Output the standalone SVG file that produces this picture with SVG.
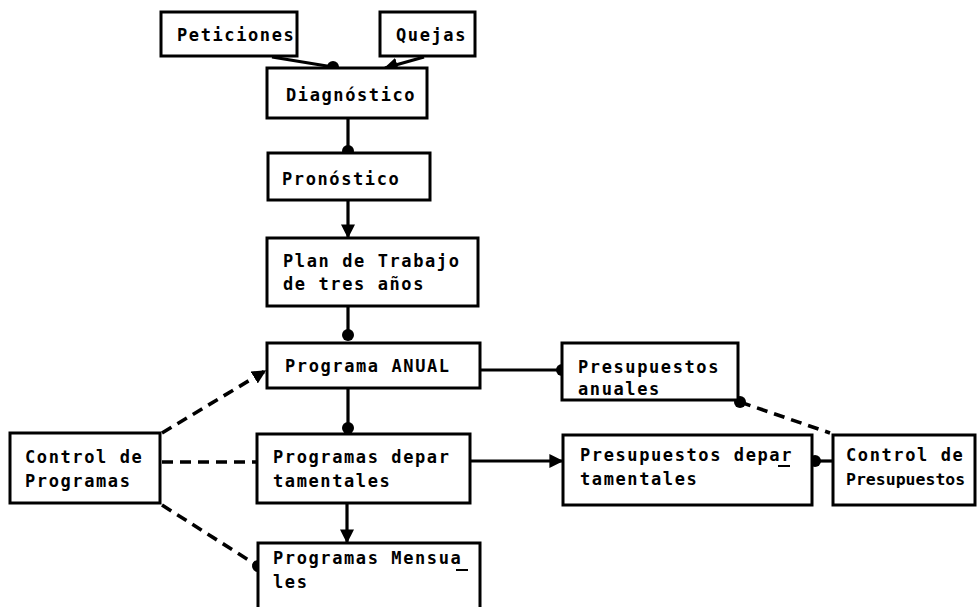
<svg xmlns="http://www.w3.org/2000/svg" width="979" height="607" viewBox="0 0 979 607">
<style>
.box{fill:#fff;stroke:#000;stroke-width:3}
.t{font-family:"DejaVu Sans Mono","Liberation Mono",monospace;font-weight:bold;font-size:17px;letter-spacing:1.6px;fill:#000}
.tn{letter-spacing:0;font-size:16.5px}
.c{fill:none;stroke:#000;stroke-width:3.2}
.d{fill:none;stroke:#000;stroke-width:3.6;stroke-dasharray:11 7}
</style>
<defs>
<marker id="dot" viewBox="0 0 10 10" refX="5" refY="5" markerWidth="12" markerHeight="12" markerUnits="userSpaceOnUse">
<circle cx="5" cy="5" r="5" fill="#000"/>
</marker>
<marker id="arr" viewBox="0 0 10 10" refX="9" refY="5" markerWidth="14" markerHeight="14" markerUnits="userSpaceOnUse" orient="auto">
<path d="M0,0 L10,5 L0,10 z" fill="#000"/>
</marker>
</defs>
<rect width="979" height="607" fill="#fff"/>
<g id="connectors">
<line class="c" x1="272" y1="57" x2="333" y2="67" marker-end="url(#dot)"/>
<line class="c" x1="424" y1="57" x2="385" y2="68" marker-end="url(#arr)"/>
<line class="c" x1="348" y1="118" x2="348" y2="151" marker-end="url(#dot)"/>
<line class="c" x1="348" y1="200" x2="348" y2="237" marker-end="url(#arr)"/>
<line class="c" x1="348" y1="306" x2="348" y2="335" marker-end="url(#dot)"/>
<line class="c" x1="480" y1="370" x2="562" y2="370" marker-end="url(#dot)"/>
<line class="c" x1="348" y1="388" x2="348" y2="428" marker-end="url(#dot)"/>
<line class="c" x1="347" y1="503" x2="347" y2="542" marker-end="url(#arr)"/>
<line class="c" x1="470" y1="461" x2="562" y2="461" marker-end="url(#arr)"/>
<line class="c" x1="833" y1="461" x2="815" y2="461" marker-end="url(#dot)"/>
<line class="d" x1="162" y1="433" x2="265" y2="371" marker-end="url(#arr)"/>
<line class="d" x1="162" y1="462" x2="257" y2="462"/>
<line class="d" x1="162" y1="505" x2="258" y2="566" marker-end="url(#dot)"/>
<line class="d" x1="740" y1="402" x2="830" y2="433" marker-start="url(#dot)"/>
</g>
<g id="peticiones"><rect class="box" x="161" y="12" width="136" height="44"/><text class="t" x="177" y="41">Peticiones</text></g>
<g id="quejas"><rect class="box" x="380" y="12" width="95" height="44"/><text class="t" x="396" y="41">Quejas</text></g>
<g id="diagnostico"><rect class="box" x="267" y="68" width="160" height="50"/><text class="t" x="286" y="101">Diagnóstico</text></g>
<g id="pronostico"><rect class="box" x="268" y="153" width="162" height="47"/><text class="t" x="282" y="185">Pronóstico</text></g>
<g id="plan"><rect class="box" x="267" y="238" width="211" height="68"/><text class="t" x="283" y="267">Plan de Trabajo</text><text class="t" x="283" y="290">de tres años</text></g>
<g id="anual"><rect class="box" x="267" y="343" width="213" height="45"/><text class="t" x="285" y="372">Programa ANUAL</text></g>
<g id="presanuales"><rect class="box" x="562" y="343" width="176" height="57"/><text class="t" x="578" y="373">Presupuestos</text><text class="t" x="578" y="395">anuales</text></g>
<g id="controlprog"><rect class="box" x="10" y="433" width="150" height="70"/><text class="t" x="25" y="463">Control de</text><text class="t" x="25" y="487">Programas</text></g>
<g id="progdep"><rect class="box" x="257" y="434" width="213" height="69"/><text class="t" x="273" y="463">Programas depar</text><text class="t" x="273" y="487">tamentales</text></g>
<g id="presdep"><rect class="box" x="563" y="435" width="249" height="70"/><text class="t" x="580" y="461">Presupuestos depar</text><text class="t" x="580" y="485">tamentales</text><line x1="778" y1="466" x2="790" y2="466" stroke="#000" stroke-width="2"/></g>
<g id="controlpres"><rect class="box" x="833" y="435" width="142" height="70"/><text class="t" x="846" y="461">Control de</text><text class="t tn" x="846" y="485">Presupuestos</text></g>
<g id="mensuales"><rect class="box" x="258" y="543" width="222" height="80"/><text class="t" x="273" y="564">Programas Mensua</text><text class="t" x="273" y="588">les</text><line x1="456" y1="570" x2="468" y2="570" stroke="#000" stroke-width="2"/></g>
</svg>
